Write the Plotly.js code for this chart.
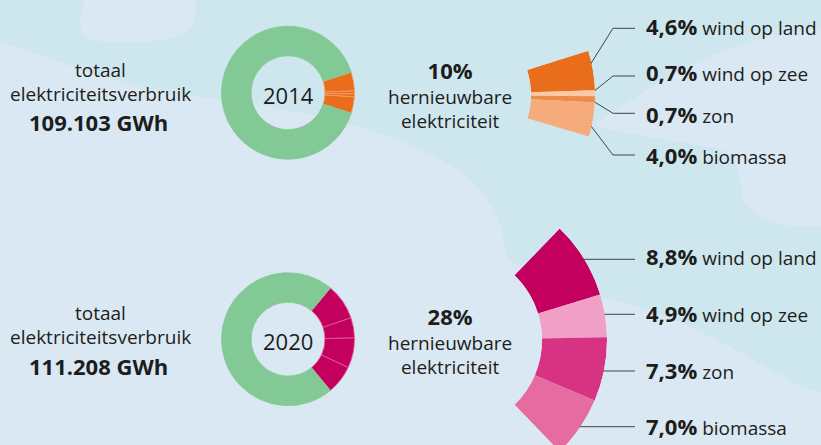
<!DOCTYPE html>
<html><head><meta charset="utf-8">
<script src="https://cdn.plot.ly/plotly-3.0.1.min.js"></script>
<style>
html,body{margin:0;padding:0;overflow:hidden;background:#cee7ef}
#wrap{width:821px;height:445px;overflow:hidden;position:relative}
#chart{width:821px;height:460px}
</style>
</head><body><div id="wrap"><div id="chart"></div></div>
<script>
// ---- data ----
const years = ['2014', '2020'];
const sources = ['wind op land', 'wind op zee', 'zon', 'biomassa'];
const share2014 = [4.6, 0.7, 0.7, 4.0];
const share2020 = [8.8, 4.9, 7.3, 7.0];
const renewable2014 = 10;
const renewable2020 = 28;
const other2014 = 90;
const other2020 = 72;
const usage2014 = '109.103 GWh';
const usage2020 = '111.208 GWh';

// ---- style ----
const W = 821, H = 460;
const FONT = '"Open Sans", "Noto Sans", sans-serif';
const TXT = '#1d1d1b';
const LINE = '#444444';
const GREEN = '#83c996';
const col2014 = ['#e96d1b', '#fcc8a5', '#ef8a48', '#f5ab7b'];
const col2020 = ['#c4005f', '#f0a0c4', '#d83282', '#e66ca0'];
const ringLine2014 = '#f4a070';
const ringLine2020 = '#e0609a';

const fx = x => x / W, fy = y => 1 - y / H;
const fmt = v => v.toFixed(1).replace('.', ',') + '%';

function pieDomain(cx, cy, r) {
  return {x: [fx(cx - r), fx(cx + r)], y: [fy(cy + r), fy(cy - r)]};
}
function polarDomain(cx, cy, R, s0, s1) {
  const d = Math.PI / 180;
  const xs = [0, Math.cos(s0 * d), Math.cos(s1 * d)];
  const ys = [0, Math.sin(s0 * d), Math.sin(s1 * d)];
  const x0 = Math.min(...xs), x1 = (s0 <= 0 && s1 >= 0) ? 1 : Math.max(...xs);
  const y0 = Math.min(...ys), y1 = Math.max(...ys);
  return {x: [fx(cx + R * x0), fx(cx + R * x1)], y: [fy(cy - R * y0), fy(cy - R * y1)]};
}
function pxPath(s) {
  return s.replace(/(-?[\d.]+),(-?[\d.]+)/g, (m, a, b) => fx(+a).toFixed(5) + ',' + fy(+b).toFixed(5));
}

function ring(vals, other, colors, lineCol, cx, cy, r) {
  const total = vals.reduce((a, b) => a + b, 0);
  return {
    type: 'pie', values: vals.concat([other]), labels: sources.concat(['overig']),
    sort: false, direction: 'clockwise', rotation: 90 - total * 3.6 / 2,
    hole: 0.555, domain: pieDomain(cx, cy, r),
    marker: {colors: colors.concat([GREEN]),
             line: {color: vals.map(() => lineCol).concat([GREEN]), width: 0.8}},
    textinfo: 'none', hoverinfo: 'label+value', showlegend: false
  };
}
function fan(vals, colors, span, subplot) {
  const k = span / vals.reduce((a, b) => a + b, 0);
  let cum = 0; const theta = [], width = [];
  vals.forEach(v => { theta.push((cum + v / 2) * k); width.push(v * k); cum += v; });
  return {
    type: 'barpolar', subplot: subplot, r: vals.map(() => 1), theta: theta, width: width,
    text: sources, hoverinfo: 'text', marker: {color: colors, line: {width: 0}}, showlegend: false
  };
}
function polarLayout(dom, s0, s1, hole) {
  return {
    domain: dom, sector: [s0, s1], hole: hole, bgcolor: 'rgba(0,0,0,0)',
    radialaxis: {visible: false, range: [0, 1], showgrid: false},
    angularaxis: {visible: false, showgrid: false, direction: 'clockwise', rotation: s1, thetaunit: 'degrees'}
  };
}

// geometry (px)
const F14 = {cx: 448, cy: 95, R: 147, s0: -16.5, s1: 17.5, inner: 83};
const F20 = {cx: 452, cy: 340, R: 155, s0: -46, s1: 46, inner: 90};

const data = [
  ring(share2014, other2014, col2014.map(() => col2014[0]), ringLine2014, 288, 92.7, 66.5),
  ring(share2020, other2020, col2020.map(() => col2020[0]), ringLine2020, 288, 339.2, 66.5),
  fan(share2014, col2014, F14.s1 - F14.s0, 'polar'),
  fan(share2020, col2020, F20.s1 - F20.s0, 'polar2')
];

function ann(x, y, text, size, extra) {
  return Object.assign({xref: 'paper', yref: 'paper', x: fx(x), y: fy(y), text: text, showarrow: false,
    font: {family: FONT, size: size, color: TXT}, xanchor: 'center', yanchor: 'middle'}, extra || {});
}
const annotations = [];
[[usage2014, 0], [usage2020, 243]].forEach(([u, dy]) => {
  annotations.push(ann(100, 70 + dy, 'totaal', 19));
  annotations.push(ann(100, 94 + dy, 'elektriciteitsverbruik', 19));
  annotations.push(ann(98, 122.5 + dy, '<b>' + u + '</b>', 22));
});
annotations.push(ann(288, 95, years[0], 22));
annotations.push(ann(288, 341, years[1], 22));
[[renewable2014, 0], [renewable2020, 246]].forEach(([p, dy]) => {
  annotations.push(ann(450, 94 + dy,
    '<b><span style="font-size:22px">' + p + '%</span></b><br>hernieuwbare<br>elektriciteit', 19));
});
const labY14 = [26, 72, 114, 155];
const labY20 = [256, 313, 370, 426];
share2014.forEach((v, i) => annotations.push(ann(644, labY14[i],
  '<b><span style="font-size:22px">' + fmt(v) + '</span></b> ' + sources[i], 19, {xanchor: 'left'})));
share2020.forEach((v, i) => annotations.push(ann(644, labY20[i],
  '<b><span style="font-size:22px">' + fmt(v) + '</span></b> ' + sources[i], 19, {xanchor: 'left'})));

const LIGHT = '#d9e8f2';
const bg = [
  'M0,42 C50,55 110,88 200,97 C320,110 420,140 465,175 C505,210 503,240 506,254 C512,268 560,285 605,298 C640,304 690,325 740,352 C775,372 800,388 821,393 L821,460 L0,460 Z',
  'M84,0 C80,20 76,36 92,40 C130,45 172,42 190,30 C198,20 196,8 195,0 Z',
  'M821,28 C770,32 700,55 650,88 C625,104 604,116 596,125 C620,135 680,140 722,150 C746,160 736,186 746,205 C760,222 790,228 821,227 Z'
];
const shapes = bg.map(p => ({type: 'path', xref: 'paper', yref: 'paper', path: pxPath(p),
  fillcolor: LIGHT, line: {width: 0}, layer: 'below'}));
const conn14 = [
  [[590, 65], [613, 28.3], [635, 28.3]],
  [[593, 92], [613, 76], [635, 76]],
  [[593, 101], [613, 113.3], [635, 113.3]],
  [[591, 126], [613, 155], [635, 155]]
];
const conn20 = [259.3, 314.3, 371, 426.7].map(y => [[570, y], [635, y]]);
conn14.concat(conn20).forEach(pts => shapes.push({type: 'path', xref: 'paper', yref: 'paper',
  path: pxPath('M' + pts.map(p => p[0] + ',' + p[1]).join(' L')), line: {color: LINE, width: 1}, layer: 'below'}));

const layout = {
  width: W, height: H, margin: {l: 0, r: 0, t: 0, b: 0},
  paper_bgcolor: '#cee7ef', plot_bgcolor: 'rgba(0,0,0,0)',
  font: {family: FONT, color: TXT},
  polar: polarLayout(polarDomain(F14.cx, F14.cy, F14.R, F14.s0, F14.s1), F14.s0, F14.s1, F14.inner / F14.R),
  polar2: polarLayout(polarDomain(F20.cx, F20.cy, F20.R, F20.s0, F20.s1), F20.s0, F20.s1, F20.inner / F20.R),
  annotations: annotations, shapes: shapes, showlegend: false
};
Plotly.newPlot('chart', data, layout, {displayModeBar: false, staticPlot: true});
</script>
</body></html>
